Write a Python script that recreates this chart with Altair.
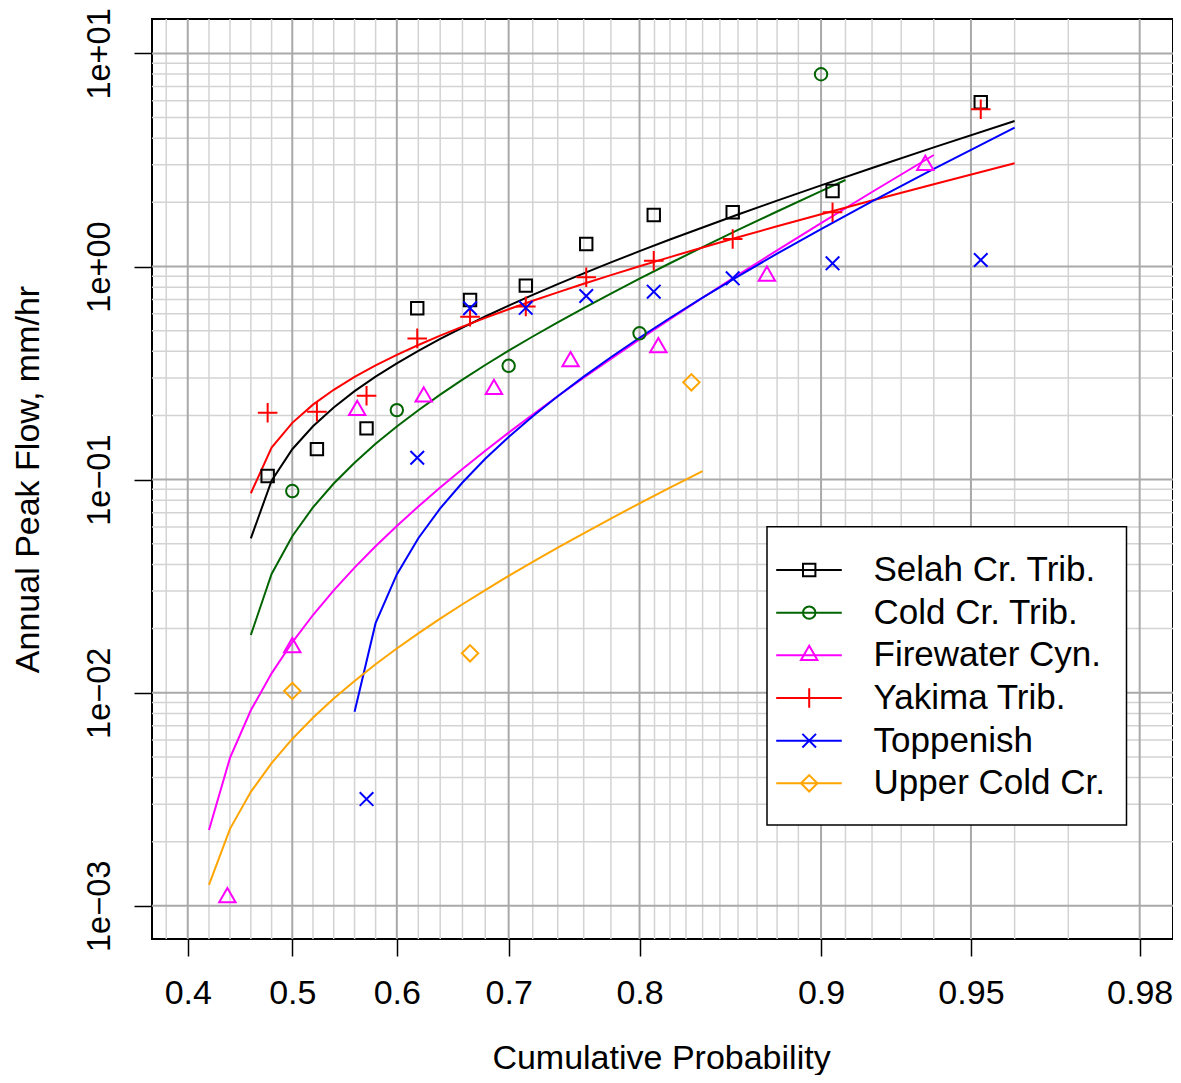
import altair as alt
import pandas as pd
from statistics import NormalDist

FONT = "Liberation Sans"
FS = 34
FS_Y = 32.5
FS_LEG = 35

SERIES = ["Selah Cr. Trib.", "Cold Cr. Trib.", "Firewater Cyn.", "Yakima Trib.", "Toppenish", "Upper Cold Cr."]
COLORS = ["#000000", "#006400", "#FF00FF", "#FF0000", "#0000FF", "#FFA500"]
SHAPES = [
    "M-0.62,-0.62H0.62V0.62H-0.62Z",
    "M0.62,0A0.62,0.62,0,1,1,-0.62,0A0.62,0.62,0,1,1,0.62,0Z",
    "M0,-0.95L0.82,0.475L-0.82,0.475Z",
    "M-0.98,0H0.98M0,-0.98V0.98",
    "M-0.68,-0.68L0.68,0.68M-0.68,0.68L0.68,-0.68",
    "M0,-0.82L0.82,0L0,0.82L-0.82,0Z",
]

# observed peaks (plotting position, value)
SELAH_P = [0.4762, 0.5238, 0.5714, 0.6190, 0.6667, 0.7143, 0.7619, 0.8095, 0.8571, 0.9048, 0.9524]
SELAH_V = [0.104, 0.139, 0.174, 0.637, 0.696, 0.813, 1.275, 1.745, 1.796, 2.26, 5.90]
COLD_P = [0.5, 0.6, 0.7, 0.8, 0.9]
COLD_V = [0.0884, 0.212, 0.342, 0.486, 7.98]
FIRE_P = [0.4375, 0.5, 0.5625, 0.625, 0.6875, 0.75, 0.8125, 0.875, 0.9375]
FIRE_V = [0.001094, 0.0163, 0.2117, 0.2445, 0.2656, 0.358, 0.417, 0.903, 2.99]
YAK_P = [0.4762, 0.5238, 0.5714, 0.6190, 0.6667, 0.7143, 0.7619, 0.8095, 0.8571, 0.9048, 0.9524]
YAK_V = [0.206, 0.2083, 0.2476, 0.46, 0.581, 0.65, 0.890, 1.065, 1.346, 1.796, 5.47]
TOP_P = [0.5714, 0.6190, 0.6667, 0.7143, 0.7619, 0.8095, 0.8571, 0.9048, 0.9524]
TOP_V = [0.00317, 0.1267, 0.637, 0.64, 0.727, 0.762, 0.880, 1.035, 1.073]
UPPER_P = [0.5, 0.6667, 0.8333]
UPPER_V = [0.01019, 0.01531, 0.286]

# fitted curves
SELAH_FIT_P = [0.46, 0.48, 0.50, 0.52, 0.54, 0.56, 0.58, 0.60, 0.62, 0.64, 0.66, 0.68, 0.70,
               0.72, 0.74, 0.76, 0.78, 0.80, 0.82, 0.84, 0.86, 0.88, 0.90, 0.92, 0.94, 0.96]
SELAH_FIT_V = [0.0530, 0.0989, 0.1389, 0.1779, 0.2181, 0.2601, 0.3041, 0.3511, 0.4020, 0.4570,
               0.5169, 0.5826, 0.6553, 0.7358, 0.8264, 0.9288, 1.045, 1.180, 1.338, 1.525,
               1.753, 2.037, 2.403, 2.900, 3.624, 4.819]
YAK_FIT_P = [0.46, 0.48, 0.50, 0.52, 0.54, 0.56, 0.58, 0.60, 0.62, 0.64, 0.66, 0.68, 0.70,
             0.72, 0.74, 0.76, 0.78, 0.80, 0.82, 0.84, 0.86, 0.88, 0.90, 0.92, 0.94, 0.96]
YAK_FIT_V = [0.0863, 0.1413, 0.1847, 0.2248, 0.2639, 0.3032, 0.3433, 0.3846, 0.4281, 0.4737,
             0.5221, 0.5739, 0.6298, 0.6905, 0.7565, 0.8296, 0.9110, 1.003, 1.107, 1.228,
             1.371, 1.544, 1.760, 2.041, 2.434, 3.050]
COLD_FIT_P = [0.46, 0.48, 0.50, 0.52, 0.54, 0.56, 0.58, 0.60, 0.62, 0.64, 0.66, 0.68, 0.70,
              0.72, 0.74, 0.76, 0.78, 0.80, 0.82, 0.84, 0.86, 0.88, 0.90, 0.91]
COLD_FIT_V = [0.01865, 0.03608, 0.05426, 0.07411, 0.09590, 0.1201, 0.1472, 0.1776, 0.2117,
              0.2506, 0.2945, 0.3449, 0.4027, 0.4694, 0.5472, 0.6387, 0.7468, 0.8773, 1.036,
              1.233, 1.484, 1.812, 2.257, 2.546]
FIRE_FIT_P = [0.42, 0.44, 0.46, 0.48, 0.50, 0.52, 0.54, 0.56, 0.58, 0.60, 0.62, 0.64, 0.66,
              0.68, 0.70, 0.72, 0.74, 0.76, 0.78, 0.80, 0.82, 0.84, 0.86, 0.88, 0.90, 0.92, 0.94]
FIRE_FIT_V = [0.002269, 0.004948, 0.008271, 0.01233, 0.01725, 0.02316, 0.03022, 0.03865,
              0.04866, 0.06061, 0.07480, 0.09180, 0.1121, 0.1365, 0.1661, 0.2020, 0.2460,
              0.3005, 0.3687, 0.4550, 0.5667, 0.7137, 0.9127, 1.191, 1.599, 2.237, 3.336]
TOP_FIT_P = [0.56, 0.58, 0.60, 0.62, 0.64, 0.66, 0.68, 0.70, 0.72, 0.74, 0.76, 0.78, 0.80,
             0.82, 0.84, 0.86, 0.88, 0.90, 0.92, 0.94, 0.96]
TOP_FIT_V = [0.008146, 0.02120, 0.03589, 0.05306, 0.07324, 0.09694, 0.1252, 0.1585, 0.1985,
             0.2463, 0.3044, 0.3753, 0.4630, 0.5734, 0.7147, 0.8989, 1.149, 1.499, 2.022,
             2.874, 4.480]
UPPER_FIT_P = [0.42, 0.44, 0.46, 0.48, 0.50, 0.52, 0.54, 0.56, 0.58, 0.60, 0.62, 0.64, 0.66,
               0.68, 0.70, 0.72, 0.74, 0.76, 0.78, 0.80, 0.82, 0.84]
UPPER_FIT_V = [0.001254, 0.002298, 0.003427, 0.004674, 0.006071, 0.007632, 0.009389, 0.01136,
               0.01360, 0.01612, 0.01900, 0.02228, 0.02602, 0.03033, 0.03532, 0.04114, 0.04793,
               0.05600, 0.06568, 0.07738, 0.09173, 0.1097]

# axes / grid
X_MAJOR = [0.4, 0.5, 0.6, 0.7, 0.8, 0.9, 0.95, 0.98]
X_MINOR = [0.38, 0.42, 0.44, 0.46, 0.48, 0.52, 0.54, 0.56, 0.58, 0.62, 0.64, 0.66, 0.68,
           0.72, 0.74, 0.76, 0.78, 0.81, 0.82, 0.83, 0.84, 0.85, 0.86, 0.87, 0.88, 0.89,
           0.91, 0.92, 0.93, 0.94, 0.96, 0.97]
Y_MAJOR = [0.001, 0.01, 0.1, 1, 10]
Y_LABELS = ["1e\u221203", "1e\u221202", "1e\u221201", "1e+00", "1e+01"]
Y_MINOR = [0.002, 0.003, 0.004, 0.005, 0.006, 0.007, 0.008, 0.009,
           0.02, 0.03, 0.04, 0.05, 0.06, 0.07, 0.08, 0.09,
           0.2, 0.3, 0.4, 0.5, 0.6, 0.7, 0.8, 0.9,
           2, 3, 4, 5, 6, 7, 8, 9]
P_RANGE = [0.36693, 0.98360]
Y_RANGE = [0.000699, 14.5]

nd = NormalDist()
Z_TICKS = [nd.inv_cdf(p) for p in X_MAJOR]
Z_DOMAIN = [nd.inv_cdf(p) for p in P_RANGE]

obs = pd.concat([
    pd.DataFrame({"series": s, "p": p, "v": v})
    for s, p, v in zip(SERIES, [SELAH_P, COLD_P, FIRE_P, YAK_P, TOP_P, UPPER_P],
                       [SELAH_V, COLD_V, FIRE_V, YAK_V, TOP_V, UPPER_V])
], ignore_index=True)
fit = pd.concat([
    pd.DataFrame({"series": s, "p": p, "v": v})
    for s, p, v in zip(SERIES,
                       [SELAH_FIT_P, COLD_FIT_P, FIRE_FIT_P, YAK_FIT_P, TOP_FIT_P, UPPER_FIT_P],
                       [SELAH_FIT_V, COLD_FIT_V, FIRE_FIT_V, YAK_FIT_V, TOP_FIT_V, UPPER_FIT_V])
], ignore_index=True)

QN = "quantileNormal(datum.p)"

xscale = alt.Scale(domain=Z_DOMAIN, nice=False, zero=False)


def yscale():
    return alt.Scale(type="log", domain=Y_RANGE, nice=False)


color = alt.Color("series:N", scale=alt.Scale(domain=SERIES, range=COLORS), legend=None)
shape = alt.Shape("series:N", scale=alt.Scale(domain=SERIES, range=SHAPES), legend=None)

ylabel_expr = " : ".join(
    f"datum.value < {v * 3} ? '{lab}'" for v, lab in zip(Y_MAJOR[:-1], Y_LABELS[:-1])
) + f" : '{Y_LABELS[-1]}'"

x_axis = alt.Axis(
    values=Z_TICKS, labelExpr="format(cumulativeNormal(datum.value), '.2~f')",
    title="Cumulative Probability", grid=False, domain=False,
    tickSize=17, tickWidth=1.5, tickColor="black",
    labelFont=FONT, labelFontSize=FS, labelColor="black", labelPadding=47.7,
    labelBaseline="alphabetic", labelAlign="center", labelFlush=False, labelOverlap=False,
    titleFont=FONT, titleFontSize=FS, titleFontWeight="normal", titleColor="black",
    titleX=509, titleY=129, titleBaseline="alphabetic", titleAlign="center",
)
y_axis = alt.Axis(
    values=Y_MAJOR, labelExpr=ylabel_expr,
    title="Annual Peak Flow, mm/hr", grid=False, domain=False,
    tickSize=18, tickWidth=1.5, tickColor="black",
    labelFont=FONT, labelFontSize=FS_Y, labelColor="black", labelPadding=24.7,
    labelAngle=270, labelAlign="center", labelBaseline="alphabetic",
    labelFlush=False, labelOverlap=False,
    titleFont=FONT, titleFontSize=FS, titleFontWeight="normal", titleColor="black",
    titleAngle=270, titleX=-114, titleY=460, titleBaseline="alphabetic", titleAlign="center",
)

X_ENC = alt.X("z:Q", scale=xscale, axis=x_axis)

xminor = alt.Chart(pd.DataFrame({"p": X_MINOR})).transform_calculate(z=QN).mark_rule(
    color="#d3d3d3", strokeWidth=1.5).encode(x=X_ENC)
yminor = alt.Chart(pd.DataFrame({"v": Y_MINOR})).mark_rule(
    color="#d3d3d3", strokeWidth=1.5).encode(y=alt.Y("v:Q", scale=yscale(), axis=None))
xmajor = alt.Chart(pd.DataFrame({"p": X_MAJOR})).transform_calculate(z=QN).mark_rule(
    color="#a9a9a9", strokeWidth=2).encode(x=X_ENC)
ymajor = alt.Chart(pd.DataFrame({"v": Y_MAJOR})).mark_rule(
    color="#a9a9a9", strokeWidth=2).encode(y=alt.Y("v:Q", scale=yscale(), axis=None))

lines = alt.Chart(fit).transform_calculate(z=QN).mark_line(strokeWidth=2).encode(
    x=X_ENC,
    y=alt.Y("v:Q", scale=yscale(), axis=y_axis),
    color=color, detail="series:N", order="p:Q")
points = alt.Chart(obs).transform_calculate(z=QN).mark_point(
    filled=False, size=400, strokeWidth=2, opacity=1).encode(
    x=X_ENC,
    y=alt.Y("v:Q", scale=yscale(), axis=None),
    color=color, shape=shape)

# legend (own rows scale: one row per series)
leg_df = pd.DataFrame({"series": SERIES})


def leg_y():
    return alt.Y("series:N", scale=alt.Scale(type="point", domain=SERIES, range=[551, 764.3], padding=0),
                 axis=None)


box = alt.Chart(alt.Data(values=[{"k": 1}])).mark_rect(
    fill="white", stroke="black", strokeWidth=1.5).encode(
    x=alt.value(615), x2=alt.value(974.5), y=alt.value(507.7), y2=alt.value(806))
leg_lines = alt.Chart(leg_df).mark_rule(strokeWidth=2).encode(
    x=alt.value(624.2), x2=alt.value(689.8), y=leg_y(), color=color)
leg_pts = alt.Chart(leg_df).mark_point(filled=False, size=400, strokeWidth=2, opacity=1).encode(
    x=alt.value(657.2), y=leg_y(), color=color, shape=shape)
leg_txt = alt.Chart(leg_df).mark_text(
    align="left", baseline="middle", font=FONT, fontSize=FS_LEG, color="black").encode(
    x=alt.value(721.5), y=leg_y(), text="series:N")

chart = alt.layer(
    xminor, yminor, xmajor, ymajor, lines, points, box, leg_lines, leg_pts, leg_txt
).resolve_scale(y="independent").properties(
    width=1021, height=920,
    autosize=alt.AutoSizeParams(type="none"),
    padding={"left": 144, "top": 11, "right": 0, "bottom": 136},
).configure_view(stroke="black", strokeWidth=2)

chart.save("out.html", embed_options={"renderer": "svg", "actions": False})
